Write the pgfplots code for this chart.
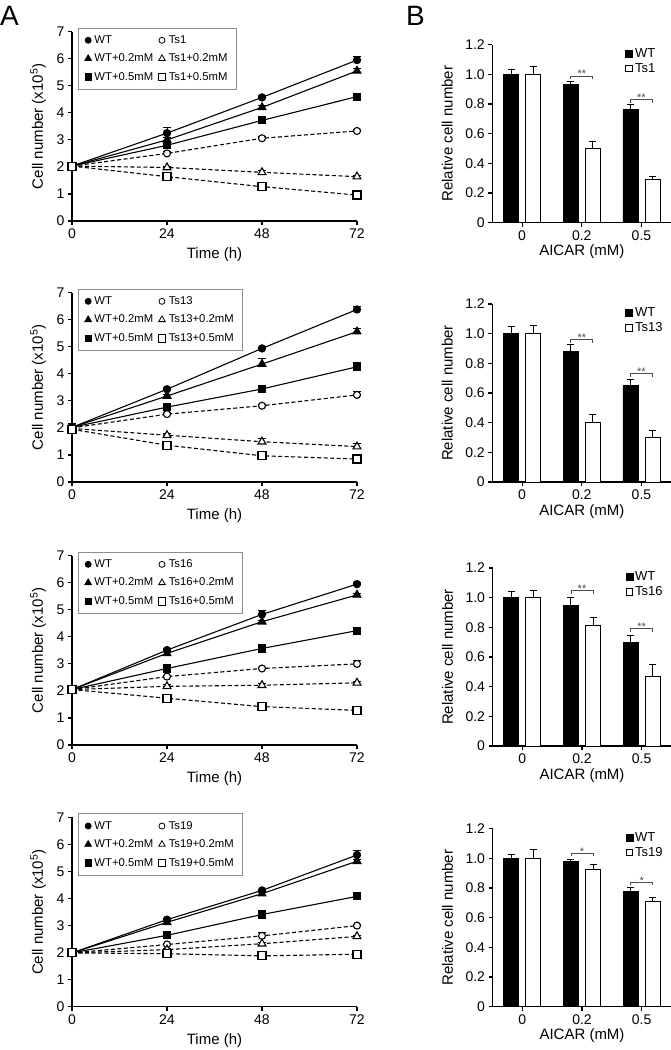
\documentclass[border=0pt]{standalone}
\usepackage{fontspec}
\setmainfont{Liberation Sans}
\usepackage{pgfplots}
\pgfplotsset{compat=1.18}
\pgfplotsset{
  base/.style={
    scale only axis, clip=false,
    axis x line*=bottom, axis y line*=left,
    tick align=outside, major tick length=4pt,
    axis line style={line width=1.1pt, black},
    major tick style={line width=1.1pt, black},
    tick label style={font=\fontsize{14}{14}\selectfont, black},
    label style={font=\fontsize{15}{15}\selectfont},
    /pgf/number format/assume math mode=true,
  },
  Aaxis/.style={base, width=285pt, height=189.3pt,
    xmin=0, xmax=72, ymin=0, ymax=7,
    xtick={0,24,48,72}, ytick={0,1,2,3,4,5,6,7},
    xlabel={Time (h)}, ylabel={Cell number (x10\textsuperscript{5})},
    xlabel style={at={(axis description cs:0.5,-0.18)}, anchor=center},
    ylabel style={at={(axis description cs:-0.119,0.5)}, anchor=center},
    legend columns=2, legend cell align=left,
    legend image code/.code={\draw[##1] plot coordinates {(0pt,0pt)};},
    legend style={at={(axis description cs:0.021,1.021)}, anchor=north west,
      draw=black!45, line width=0.8pt, font=\fontsize{11.3}{11.3}\selectfont,
      inner xsep=6.5pt, inner ysep=5.5pt, row sep=5pt,
      /tikz/every odd column/.append style={column sep=1pt},
      /tikz/every even column/.append style={column sep=3pt}},
  },
  Baxis/.style={base, width=179pt, height=178pt,
    xmin=-0.5, xmax=2.5, ymin=0, ymax=1.2,
    xtick={0,1,2}, xticklabels={0,0.2,0.5},
    ytick={0,0.2,0.4,0.6,0.8,1.0,1.2}, yticklabels={0,0.2,0.4,0.6,0.8,1.0,1.2},
    xlabel={AICAR (mM)}, ylabel={Relative cell number},
    xlabel style={at={(axis description cs:0.5,-0.165)}, anchor=center},
    ylabel style={at={(axis description cs:-0.251,0.5)}, anchor=center},
    legend cell align=left,
    legend style={draw=none, fill=none, at={(axis description cs:0.742,0.99)}, anchor=north west,
      font=\fontsize{13}{13}\selectfont, row sep=0pt, inner sep=0pt},
  },
  errs/.style={error bars/.cd, y dir=plus, y explicit,
     error bar style={line width=1pt, solid, black},
     error mark options={rotate=90, mark size=3.6pt, line width=1pt, solid, black}},
  lWT/.style={black, line width=1.1pt, solid, mark=*, mark size=3.6pt, mark options={solid, fill=black}, forget plot, errs},
  lWTa/.style={black, line width=1.1pt, solid, mark=triangle*, mark size=4.5pt, mark options={solid, fill=black}, forget plot, errs},
  lWTb/.style={black, line width=1.1pt, solid, mark=square*, mark size=3.5pt, mark options={solid, fill=black}, forget plot, errs},
  lTs/.style={black, line width=1.1pt, dash pattern=on 4pt off 2.5pt, mark=*, mark size=3.5pt, mark options={solid, fill=white}, forget plot, errs},
  lTsa/.style={black, line width=1.1pt, dash pattern=on 4pt off 2.5pt, mark=triangle*, mark size=4.5pt, mark options={solid, fill=white}, forget plot, errs},
  lTsb/.style={black, line width=1.1pt, dash pattern=on 4pt off 2.5pt, mark=square*, mark size=4pt, mark options={solid, fill=white}, forget plot, errs},
  berrs/.style={error bars/.cd, y dir=plus, y explicit,
     error bar style={line width=1pt, black},
     error mark options={rotate=90, mark size=3.5pt, line width=1pt, black}},
  bWT/.style={ybar, bar width=15pt, bar shift=0pt, fill=black, draw=black, line width=0.8pt, forget plot, berrs},
  bTs/.style={ybar, bar width=15pt, bar shift=0pt, fill=white, draw=black, line width=0.9pt, forget plot, berrs},
}
\newcommand{\Aleg}[1]{%
  \addlegendimage{black, mark=*, mark size=3pt, line width=0.8pt}\addlegendentry{WT}
  \addlegendimage{black, mark=*, mark size=3pt, line width=0.8pt, mark options={fill=white}}\addlegendentry{#1}
  \addlegendimage{black, mark=triangle*, mark size=3.8pt, line width=0.8pt}\addlegendentry{WT+0.2mM}
  \addlegendimage{black, mark=triangle*, mark size=3.8pt, line width=0.8pt, mark options={fill=white}}\addlegendentry{#1+0.2mM}
  \addlegendimage{black, mark=square*, mark size=3.2pt, line width=0.8pt}\addlegendentry{WT+0.5mM}
  \addlegendimage{black, mark=square*, mark size=3.8pt, line width=0.8pt, mark options={fill=white}}\addlegendentry{#1+0.5mM}
}
\newcommand{\Bleg}[1]{%
  \addlegendimage{legend image code/.code={\draw[black, fill=black, line width=0.6pt] (0pt,-3.5pt) rectangle (7pt,3.5pt);}}\addlegendentry{WT}
  \addlegendimage{legend image code/.code={\draw[black, fill=white, line width=0.8pt] (0pt,-3.3pt) rectangle (6.6pt,3.3pt);}}\addlegendentry{#1}
}
% x-left, x-right, x-mid, y, y-low, text
\newcommand{\brk}[6]{%
  \draw[black!70, line width=0.7pt] (axis cs:#1,#5) -- (axis cs:#1,#4) -- (axis cs:#2,#4) -- (axis cs:#2,#5);
  \node[anchor=base, inner sep=0pt, yshift=-2pt, font=\fontsize{11}{11}\selectfont, black!70] at (axis cs:#3,#4) {#6};
}
\begin{document}
\begin{tikzpicture}
\useasboundingbox (0pt,-1050pt) rectangle (671pt,0pt);
\node[anchor=base west, inner sep=0pt, font=\fontsize{28}{28}\selectfont] at (0pt,-25pt) {A};
\node[anchor=base west, inner sep=0pt, font=\fontsize{28}{28}\selectfont] at (406pt,-25pt) {B};

% ---------- A1 ----------
\begin{axis}[Aaxis, at={(72pt,-221pt)}, anchor=south west]
\addplot[lWT] coordinates {(0,2.03) +- (0,0.03) (24,3.25) +- (0,0.2) (48,4.57) +- (0,0.06) (72,5.95) +- (0,0.15)};
\addplot[lWTa] coordinates {(0,2.03) +- (0,0.03) (24,3.0) +- (0,0.1) (48,4.2) +- (0,0.08) (72,5.55) +- (0,0.1)};
\addplot[lWTb] coordinates {(0,2.03) +- (0,0.03) (24,2.8) +- (0,0.12) (48,3.72) +- (0,0.08) (72,4.6) +- (0,0.06)};
\addplot[lTs] coordinates {(0,2.03) +- (0,0.03) (24,2.5) +- (0,0.06) (48,3.06) +- (0,0.06) (72,3.33) +- (0,0.06)};
\addplot[lTsa] coordinates {(0,2.03) +- (0,0.03) (24,1.98) +- (0,0.05) (48,1.8) +- (0,0.05) (72,1.64) +- (0,0.05)};
\addplot[lTsb] coordinates {(0,2.03) +- (0,0.03) (24,1.64) +- (0,0.06) (48,1.27) +- (0,0.06) (72,0.96) +- (0,0.05)};
\Aleg{Ts1}
\end{axis}

% ---------- A2 ----------
\begin{axis}[Aaxis, at={(72pt,-482pt)}, anchor=south west]
\addplot[lWT] coordinates {(0,2.02) +- (0,0.03) (24,3.43) +- (0,0.05) (48,4.94) +- (0,0.05) (72,6.38) +- (0,0.12)};
\addplot[lWTa] coordinates {(0,2.02) +- (0,0.03) (24,3.18) +- (0,0.06) (48,4.36) +- (0,0.2) (72,5.56) +- (0,0.1)};
\addplot[lWTb] coordinates {(0,2.02) +- (0,0.03) (24,2.77) +- (0,0.08) (48,3.44) +- (0,0.05) (72,4.26) +- (0,0.15)};
\addplot[lTs] coordinates {(0,2.0) +- (0,0.03) (24,2.51) +- (0,0.05) (48,2.82) +- (0,0.05) (72,3.22) +- (0,0.12)};
\addplot[lTsa] coordinates {(0,1.98) +- (0,0.03) (24,1.73) +- (0,0.06) (48,1.49) +- (0,0.12) (72,1.31) +- (0,0.1)};
\addplot[lTsb] coordinates {(0,1.95) +- (0,0.03) (24,1.36) +- (0,0.06) (48,0.97) +- (0,0.05) (72,0.85) +- (0,0.05)};
\Aleg{Ts13}
\end{axis}

% ---------- A3 ----------
\begin{axis}[Aaxis, at={(72pt,-745pt)}, anchor=south west]
\addplot[lWT] coordinates {(0,2.05) +- (0,0.03) (24,3.51) +- (0,0.05) (48,4.83) +- (0,0.15) (72,5.95) +- (0,0.05)};
\addplot[lWTa] coordinates {(0,2.05) +- (0,0.03) (24,3.39) +- (0,0.05) (48,4.56) +- (0,0.06) (72,5.55) +- (0,0.05)};
\addplot[lWTb] coordinates {(0,2.05) +- (0,0.03) (24,2.83) +- (0,0.05) (48,3.57) +- (0,0.05) (72,4.23) +- (0,0.08)};
\addplot[lTs] coordinates {(0,2.05) +- (0,0.03) (24,2.53) +- (0,0.05) (48,2.83) +- (0,0.05) (72,3.0) +- (0,0.12)};
\addplot[lTsa] coordinates {(0,2.05) +- (0,0.03) (24,2.17) +- (0,0.05) (48,2.21) +- (0,0.05) (72,2.3) +- (0,0.05)};
\addplot[lTsb] coordinates {(0,2.05) +- (0,0.03) (24,1.73) +- (0,0.05) (48,1.42) +- (0,0.05) (72,1.28) +- (0,0.05)};
\Aleg{Ts16}
\end{axis}

% ---------- A4 ----------
\begin{axis}[Aaxis, at={(72pt,-1006.7pt)}, anchor=south west]
\addplot[lWT] coordinates {(0,1.99) +- (0,0.03) (24,3.22) +- (0,0.05) (48,4.3) +- (0,0.05) (72,5.61) +- (0,0.15)};
\addplot[lWTa] coordinates {(0,1.99) +- (0,0.03) (24,3.12) +- (0,0.05) (48,4.18) +- (0,0.05) (72,5.38) +- (0,0.06)};
\addplot[lWTb] coordinates {(0,1.99) +- (0,0.03) (24,2.64) +- (0,0.15) (48,3.41) +- (0,0.08) (72,4.08) +- (0,0.06)};
\addplot[lTs] coordinates {(0,1.99) +- (0,0.03) (24,2.3) +- (0,0.05) (48,2.62) +- (0,0.12) (72,3.0) +- (0,0.05)};
\addplot[lTsa] coordinates {(0,1.99) +- (0,0.03) (24,2.11) +- (0,0.05) (48,2.33) +- (0,0.06) (72,2.6) +- (0,0.05)};
\addplot[lTsb] coordinates {(0,1.99) +- (0,0.03) (24,1.96) +- (0,0.05) (48,1.88) +- (0,0.05) (72,1.94) +- (0,0.05)};
\Aleg{Ts19}
\end{axis}

% ---------- B1 ----------
\begin{axis}[Baxis, at={(492.3pt,-222.7pt)}, anchor=south west]
\addplot[bWT] coordinates {(-0.185,1.0) +- (0,0.03) (0.815,0.93) +- (0,0.02) (1.815,0.765) +- (0,0.03)};
\addplot[bTs] coordinates {(0.185,1.0) +- (0,0.05) (1.185,0.5) +- (0,0.05) (2.185,0.29) +- (0,0.02)};
\Bleg{Ts1}
\brk{0.815}{1.185}{1.0}{0.99}{0.97}{**}
\brk{1.815}{2.185}{2.0}{0.83}{0.81}{**}
\end{axis}

% ---------- B2 ----------
\begin{axis}[Baxis, at={(492.3pt,-482pt)}, anchor=south west]
\addplot[bWT] coordinates {(-0.185,1.0) +- (0,0.05) (0.815,0.88) +- (0,0.05) (1.815,0.65) +- (0,0.04)};
\addplot[bTs] coordinates {(0.185,1.0) +- (0,0.056) (1.185,0.40) +- (0,0.055) (2.185,0.30) +- (0,0.047)};
\Bleg{Ts13}
\brk{0.815}{1.185}{1.0}{0.96}{0.94}{**}
\brk{1.815}{2.185}{2.0}{0.73}{0.71}{**}
\end{axis}

% ---------- B3 ----------
\begin{axis}[Baxis, at={(492.5pt,-746pt)}, anchor=south west]
\addplot[bWT] coordinates {(-0.185,1.0) +- (0,0.04) (0.815,0.95) +- (0,0.05) (1.815,0.70) +- (0,0.045)};
\addplot[bTs] coordinates {(0.185,1.0) +- (0,0.05) (1.185,0.81) +- (0,0.054) (2.185,0.47) +- (0,0.078)};
\Bleg{Ts16}
\brk{0.815}{1.185}{1.0}{1.047}{1.027}{**}
\brk{1.815}{2.185}{2.0}{0.79}{0.77}{**}
\end{axis}

% ---------- B4 ----------
\begin{axis}[Baxis, at={(492.5pt,-1006.7pt)}, anchor=south west]
\addplot[bWT] coordinates {(-0.185,1.0) +- (0,0.027) (0.815,0.98) +- (0,0.01) (1.815,0.78) +- (0,0.026)};
\addplot[bTs] coordinates {(0.185,1.0) +- (0,0.058) (1.185,0.923) +- (0,0.037) (2.185,0.71) +- (0,0.026)};
\Bleg{Ts19}
\brk{0.815}{1.185}{1.0}{1.035}{1.015}{*}
\brk{1.815}{2.185}{2.0}{0.84}{0.82}{*}
\end{axis}
\end{tikzpicture}
\end{document}
